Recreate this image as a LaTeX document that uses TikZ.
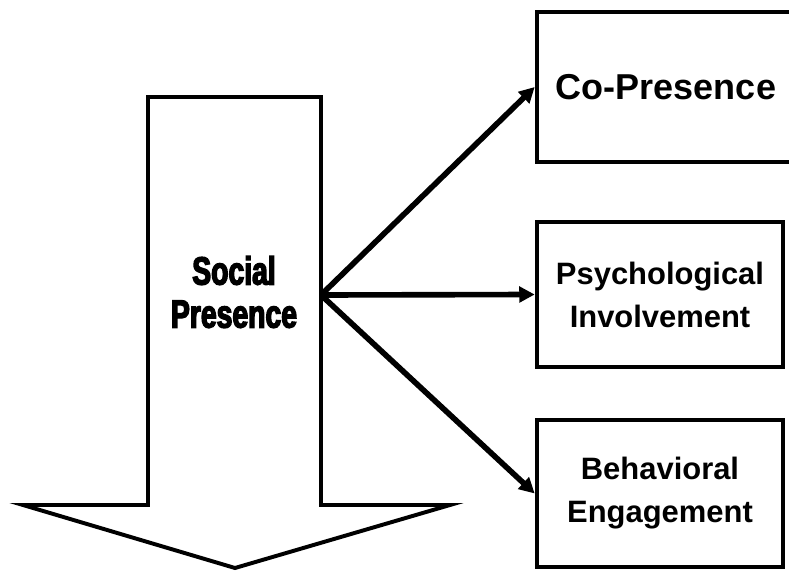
\documentclass[tikz,border=0pt]{standalone}
\usepackage{fontspec}
\setmainfont{Liberation Sans}
\newfontfamily\headfont{Liberation Sans}[BoldFeatures={FakeStretch=0.72,FakeBold=3.5}]
\usetikzlibrary{arrows.meta}

\tikzset{
  box/.style={draw, line width=3.2pt, align=center,
    font=\bfseries\fontsize{22}{30.6}\selectfont},
  link/.style={line width=4pt, -{Triangle[length=11pt,width=11pt]}},
}

\begin{document}
\begin{tikzpicture}[x=0.025cm, y=-0.025cm]
    \useasboundingbox (0,0) rectangle (789,571);

    % Big downward arrow
    \draw[line width=2.8pt, line join=miter]
        (148,97) -- (321,97) -- (321,505) -- (450,505) -- (235,568)
        -- (23,505) -- (148,505) -- cycle;
    \node[align=center, font=\headfont\bfseries\fontsize{28}{30.6}\selectfont]
        (social) at (234,292) {Social\\Presence};
    \coordinate (src) at (321,295);

    % Outcome boxes
    \node[box, font=\bfseries\fontsize{25.6}{30.6}\selectfont,
        minimum width=6.45cm, minimum height=3.75cm] (copres) at (666,87) {Co-Presence};
    \node[box, minimum width=6.15cm, minimum height=3.625cm]
        (psych) at (660,294.5) {Psychological\\Involvement};
    \node[box, minimum width=6.15cm, minimum height=3.675cm]
        (behav) at (660,493.5) {Behavioral\\Engagement};

    % Links
    \draw[link] (src) -- (copres.west);
    \draw[link] (src) -- (psych.west);
    \draw[link] (src) -- (behav.west);
\end{tikzpicture}
\end{document}
